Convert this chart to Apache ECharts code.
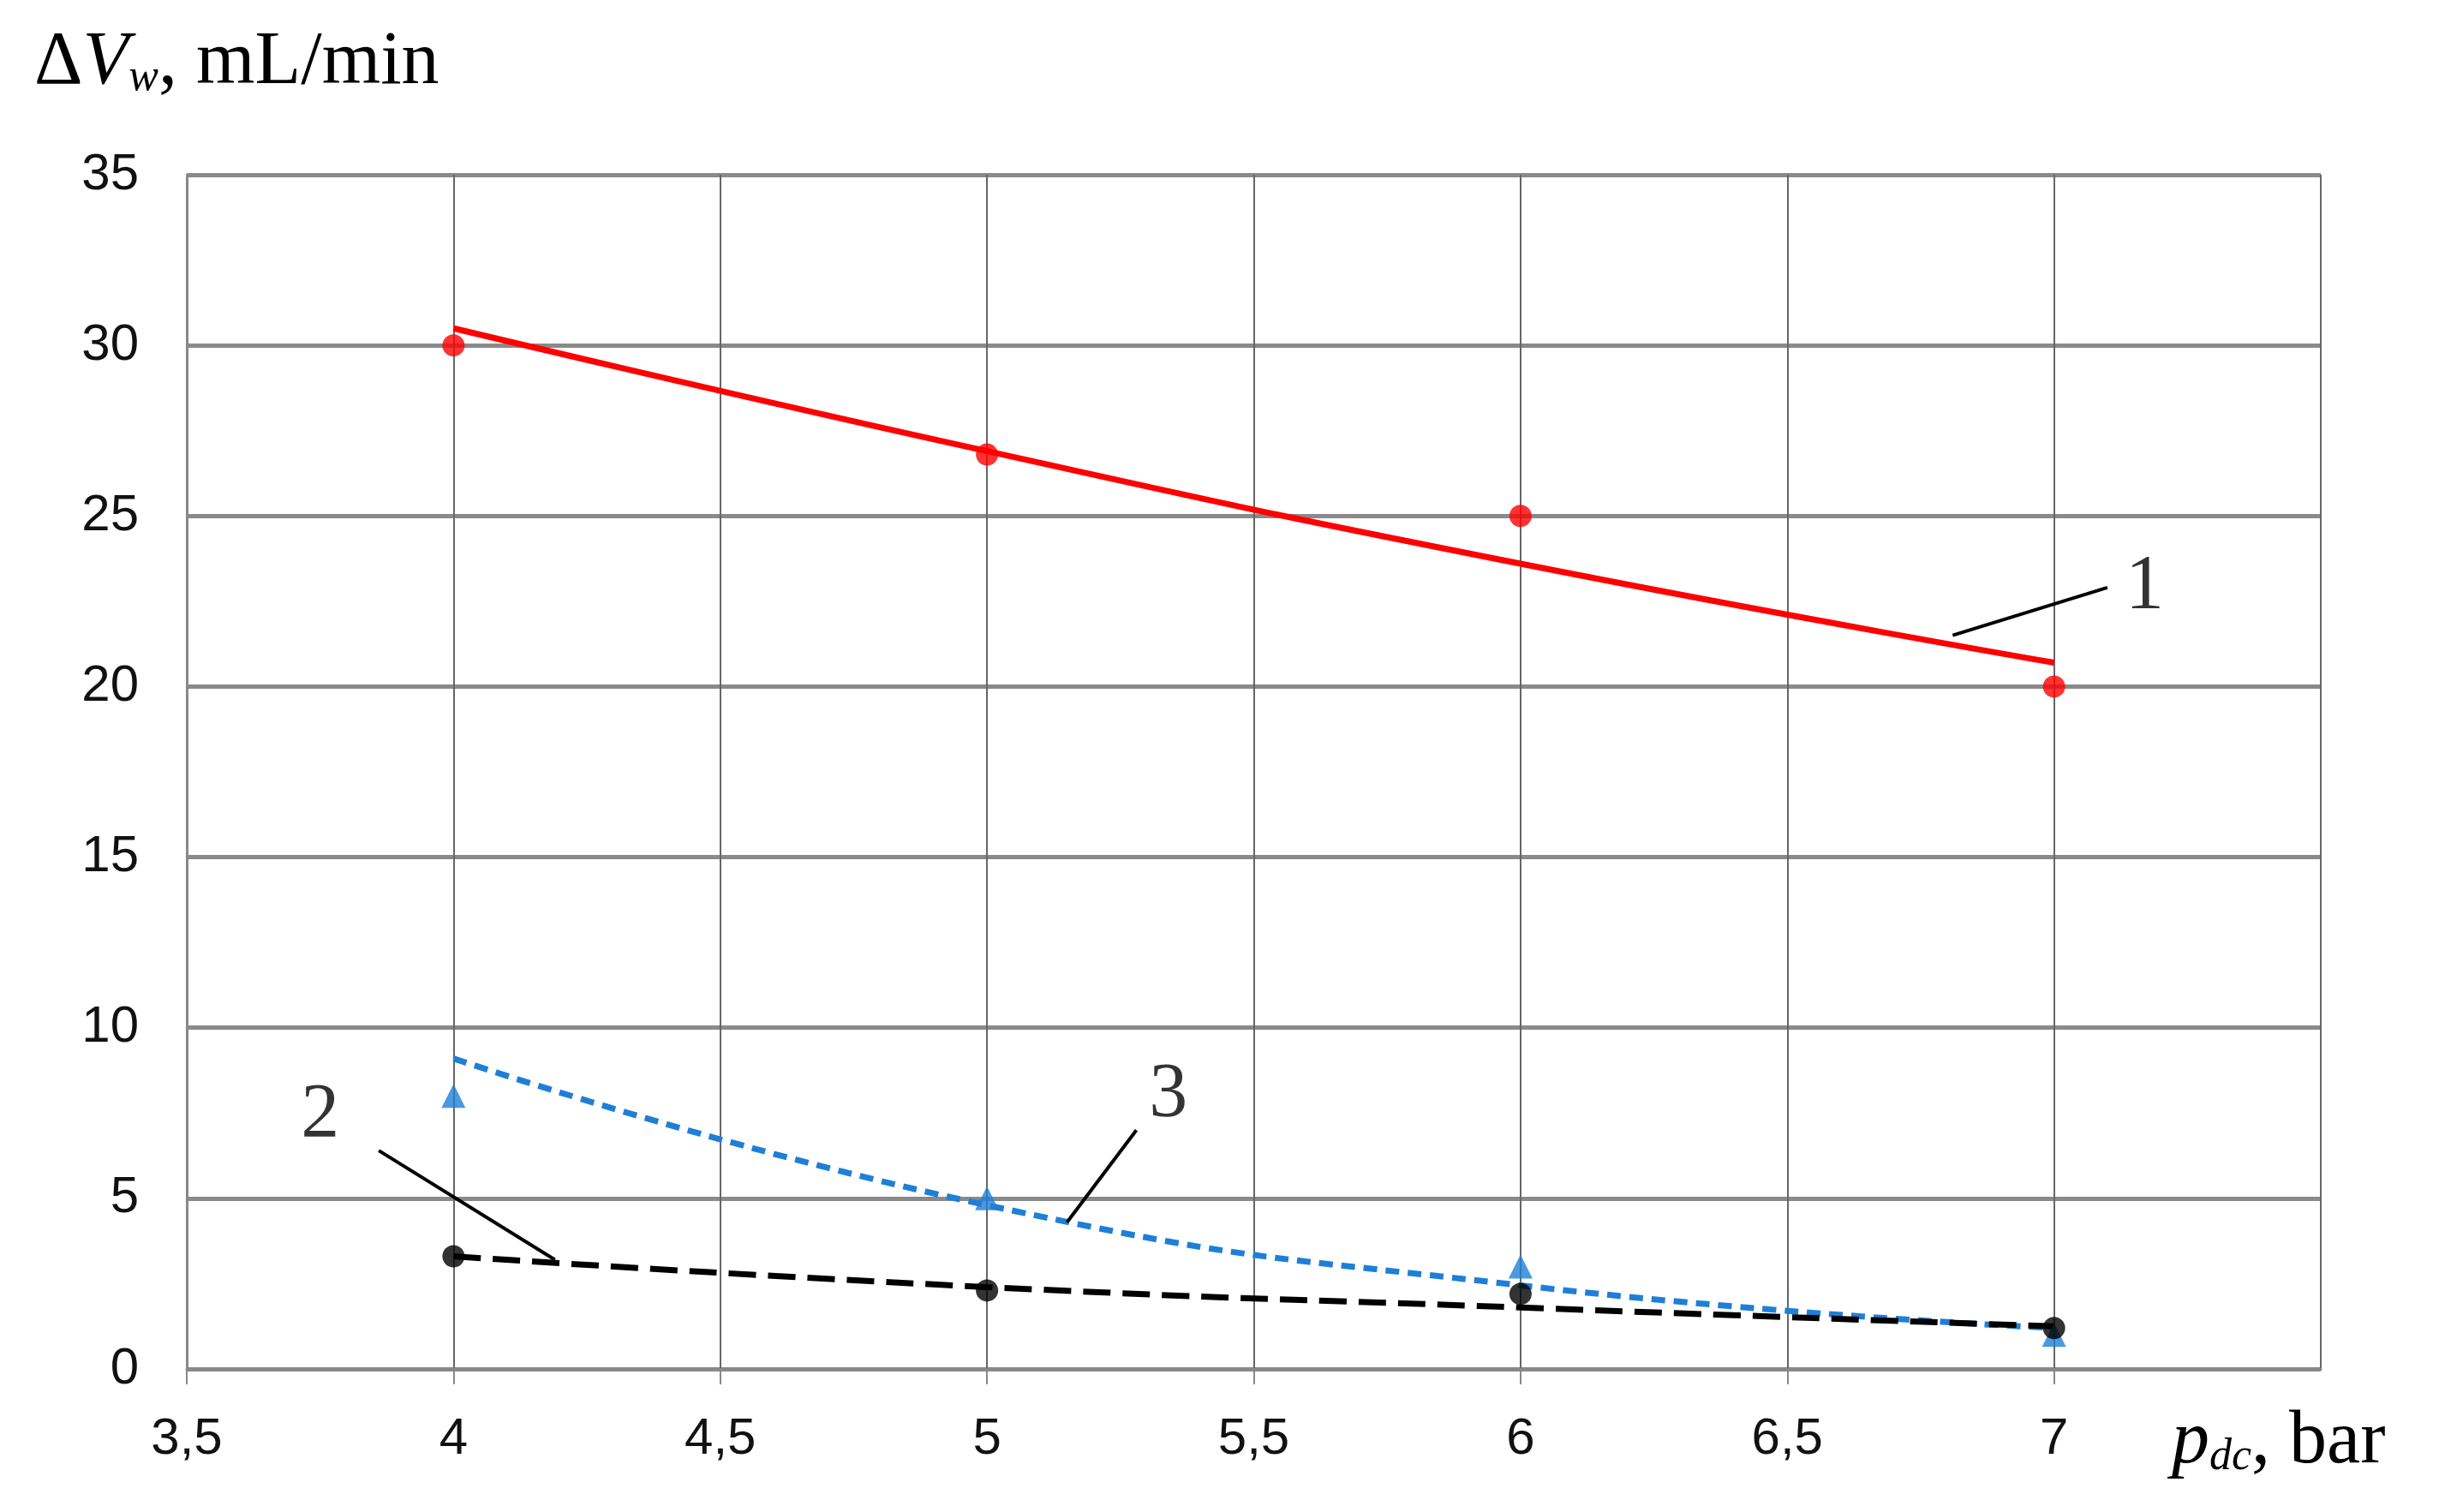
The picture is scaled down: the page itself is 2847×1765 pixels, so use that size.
<!DOCTYPE html><html><head><meta charset="utf-8"><script src="https://cdn.jsdelivr.net/npm/echarts@6/dist/echarts.min.js"></script>
<style>html,body{margin:0;background:#fff}#c{width:2847px;height:1765px}</style></head><body><div id="c"></div><script>
const xTicks=[3.5,4,4.5,5,5.5,6,6.5,7,7.5];
const pressures=[4,5,6,7];
const s1Points=[30,26.8,25,20];
const s1Trend=[30.5,26.9,23.6,20.7];
const s2Points=[3.3,2.3,2.2,1.2];
const s2Trend=[3.3,2.4,1.8,1.25];
const s3Points=[8,5,3,1];
const s3Trend=[9.1,4.8,2.45,1.2];
const labelNames=['1','2','3'];
const labelPos=[[7.17,22.9],[3.75,7.4],[5.34,8.0]];
const leaders=[[[6.81,21.5],[7.1,22.9]],[[3.86,6.4],[4.19,3.2]],[[5.28,7.0],[5.15,4.3]]];
const pair=(xs,ys)=>xs.map((x,i)=>[x,ys[i]]);
const series=[
 {type:'line',data:pair(pressures,s1Trend),smooth:true,symbol:'none',lineStyle:{color:'#ff0000',width:7},z:3},
 {type:'scatter',data:pair(pressures,s1Points),symbol:'circle',symbolSize:26,itemStyle:{color:'#ff0000'},z:4},
 {type:'line',data:pair(pressures,s3Trend),smooth:true,symbol:'none',lineStyle:{color:'#1f7fd6',width:7,type:[16,10]},z:3},
 {type:'scatter',data:pair(pressures,s3Points),symbol:'triangle',symbolSize:28,itemStyle:{color:'#1f7fd6'},z:4},
 {type:'line',data:pair(pressures,s2Trend),smooth:true,symbol:'none',lineStyle:{color:'#000',width:7,type:[32,14]},z:3},
 {type:'scatter',data:pair(pressures,s2Points),symbol:'circle',symbolSize:26,itemStyle:{color:'#000'},z:4},
 {type:'scatter',data:labelPos.map((p,i)=>({value:p,name:labelNames[i]})),symbolSize:0,
  label:{show:true,position:'inside',formatter:p=>p.name,fontFamily:'Liberation Serif',fontSize:90,color:'#000'},z:5}
];
leaders.forEach(l=>series.push({type:'line',data:l,symbol:'none',lineStyle:{color:'#000',width:4},z:5}));
const c=echarts.init(document.getElementById('c'));
c.setOption({animation:false,
 grid:{left:218,right:138,top:204,bottom:167},
 xAxis:{type:'value',min:3.5,max:7.5,interval:0.5,
  axisLine:{lineStyle:{color:'#888',width:3}},axisTick:{show:true,length:18,lineStyle:{color:'#888',width:2}},
  splitLine:{lineStyle:{color:'#666',width:2}},
  axisLabel:{margin:52,fontFamily:'Liberation Sans',fontSize:60,color:'#111',formatter:v=>String(v).replace('.',','),
   showMaxLabel:false}},
 yAxis:{type:'value',min:0,max:35,interval:5,
  axisLine:{show:true,lineStyle:{color:'#888',width:3}},axisTick:{show:false},
  splitLine:{lineStyle:{color:'#8a8a8a',width:5}},
  axisLabel:{margin:56,fontFamily:'Liberation Sans',fontSize:60,color:'#111'}},
 graphic:[
  {type:'text',left:40,top:30,style:{text:'{a|Δ}{b|V}{s|w}{a|, mL/min}',rich:{a:{fontFamily:'Liberation Serif',fontSize:88,fill:'#000'},b:{fontFamily:'Liberation Serif',fontStyle:'italic',fontSize:88,fill:'#000'},s:{fontFamily:'Liberation Serif',fontStyle:'italic',fontSize:52,fill:'#000',padding:[34,0,0,0]}}}},
  {type:'text',left:2535,top:1640,style:{text:'{b|p}{s|dc}{a|, bar}',rich:{a:{fontFamily:'Liberation Serif',fontSize:88,fill:'#000'},b:{fontFamily:'Liberation Serif',fontStyle:'italic',fontSize:88,fill:'#000'},s:{fontFamily:'Liberation Serif',fontStyle:'italic',fontSize:52,fill:'#000',padding:[34,0,0,0]}}}}
 ],
 series});
</script></body></html>
